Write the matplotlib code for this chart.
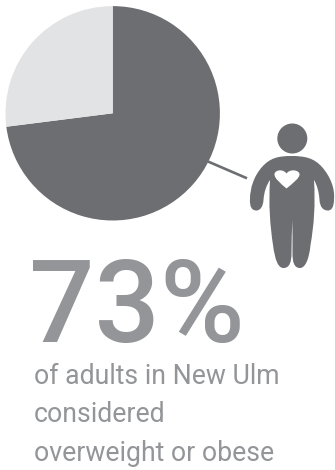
#!/usr/bin/env python3
"""
Pie chart infographic: adults considered overweight or obese in New Ulm
"""

import matplotlib
matplotlib.use('Agg')
import matplotlib.pyplot as plt
from matplotlib.patches import Circle, PathPatch
from matplotlib.path import Path

slice_values = [73, 27]
slice_colors = ['#6d6e71', '#e2e3e4']
headline = '73%'
caption_lines = ['of adults in New Ulm', 'considered', 'overweight or obese']

DARK = '#6d6e71'
TEXT = '#939598'
FONT = ['Roboto', 'Liberation Sans', 'DejaVu Sans']


def smooth_shape(points):
    # first point is the start, then groups of three for cubic segments
    codes = [Path.MOVETO] + [Path.CURVE4] * (len(points) - 1)
    return Path(points, codes)


def create_figure():
    fig = plt.figure(figsize=(3.35, 4.7), dpi=100)
    ax = fig.add_axes([0, 0, 1, 1])

    # y axis runs downward, so clockwise from the top is start -90, counterclock
    ax.pie(slice_values, colors=slice_colors, startangle=-90, counterclock=True,
           center=(112.7, 113.3), radius=107.2, frame=True,
           wedgeprops=dict(linewidth=0))
    ax.set_xlim(0, 335)
    ax.set_ylim(470, 0)
    ax.set_aspect('equal')
    ax.axis('off')

    # Connector from pie to figure
    ax.plot([208, 247], [161.5, 178.3], color=DARK, lw=1.9, solid_capstyle='butt')

    # Person icon
    ax.add_patch(Circle((292.3, 138.5), 15, facecolor=DARK, edgecolor='none'))
    body = smooth_shape([
        (291.5, 156),
        (305, 156), (314, 158), (322, 167),
        (330, 176), (335, 188), (334, 199),
        (334, 208), (331, 210.5), (328, 210.5),
        (323, 210.5), (320, 207), (319.5, 200),
        (319, 192), (317, 185), (314, 180),
        (315.5, 205), (314, 225), (310.5, 245),
        (309, 260), (305, 268), (300, 268),
        (294, 268), (292.5, 262), (292.5, 253),
        (292.5, 240), (292.5, 232), (292.3, 220),
        (292, 232), (291.5, 240), (291.5, 253),
        (291.5, 262), (289.5, 268), (283.5, 268),
        (278, 268), (275, 260), (273, 245),
        (270, 225), (268.5, 205), (270, 180),
        (266.5, 185), (264, 192), (263.5, 200),
        (263, 207), (260, 210.5), (256.5, 210.5),
        (252, 210.5), (249.5, 207), (250, 199),
        (250, 188), (254, 176), (262, 167),
        (270, 158), (278, 156), (291.5, 156),
    ])
    ax.add_patch(PathPatch(body, facecolor=DARK, edgecolor='none'))

    # Heart on the chest
    heart = smooth_shape([
        (286.5, 188.5),
        (280, 183), (274, 178), (274.5, 174),
        (275, 170), (283, 168.5), (286.5, 173.5),
        (290, 168.5), (299, 170), (299.5, 174),
        (300, 178), (293, 183), (286.5, 188.5),
    ])
    ax.add_patch(PathPatch(heart, facecolor='white', edgecolor='none'))

    # Headline and caption
    ax.text(29, 342, headline, fontsize=83, family=FONT, weight='medium', color=TEXT,
            ha='left', va='baseline')
    for line, baseline in zip(caption_lines, [384, 422.5, 461]):
        ax.text(33.5, baseline, line, fontsize=19.2, family=FONT, color=TEXT,
                ha='left', va='baseline')

    fig.savefig('out.png', dpi=100, facecolor='white')


if __name__ == "__main__":
    create_figure()
